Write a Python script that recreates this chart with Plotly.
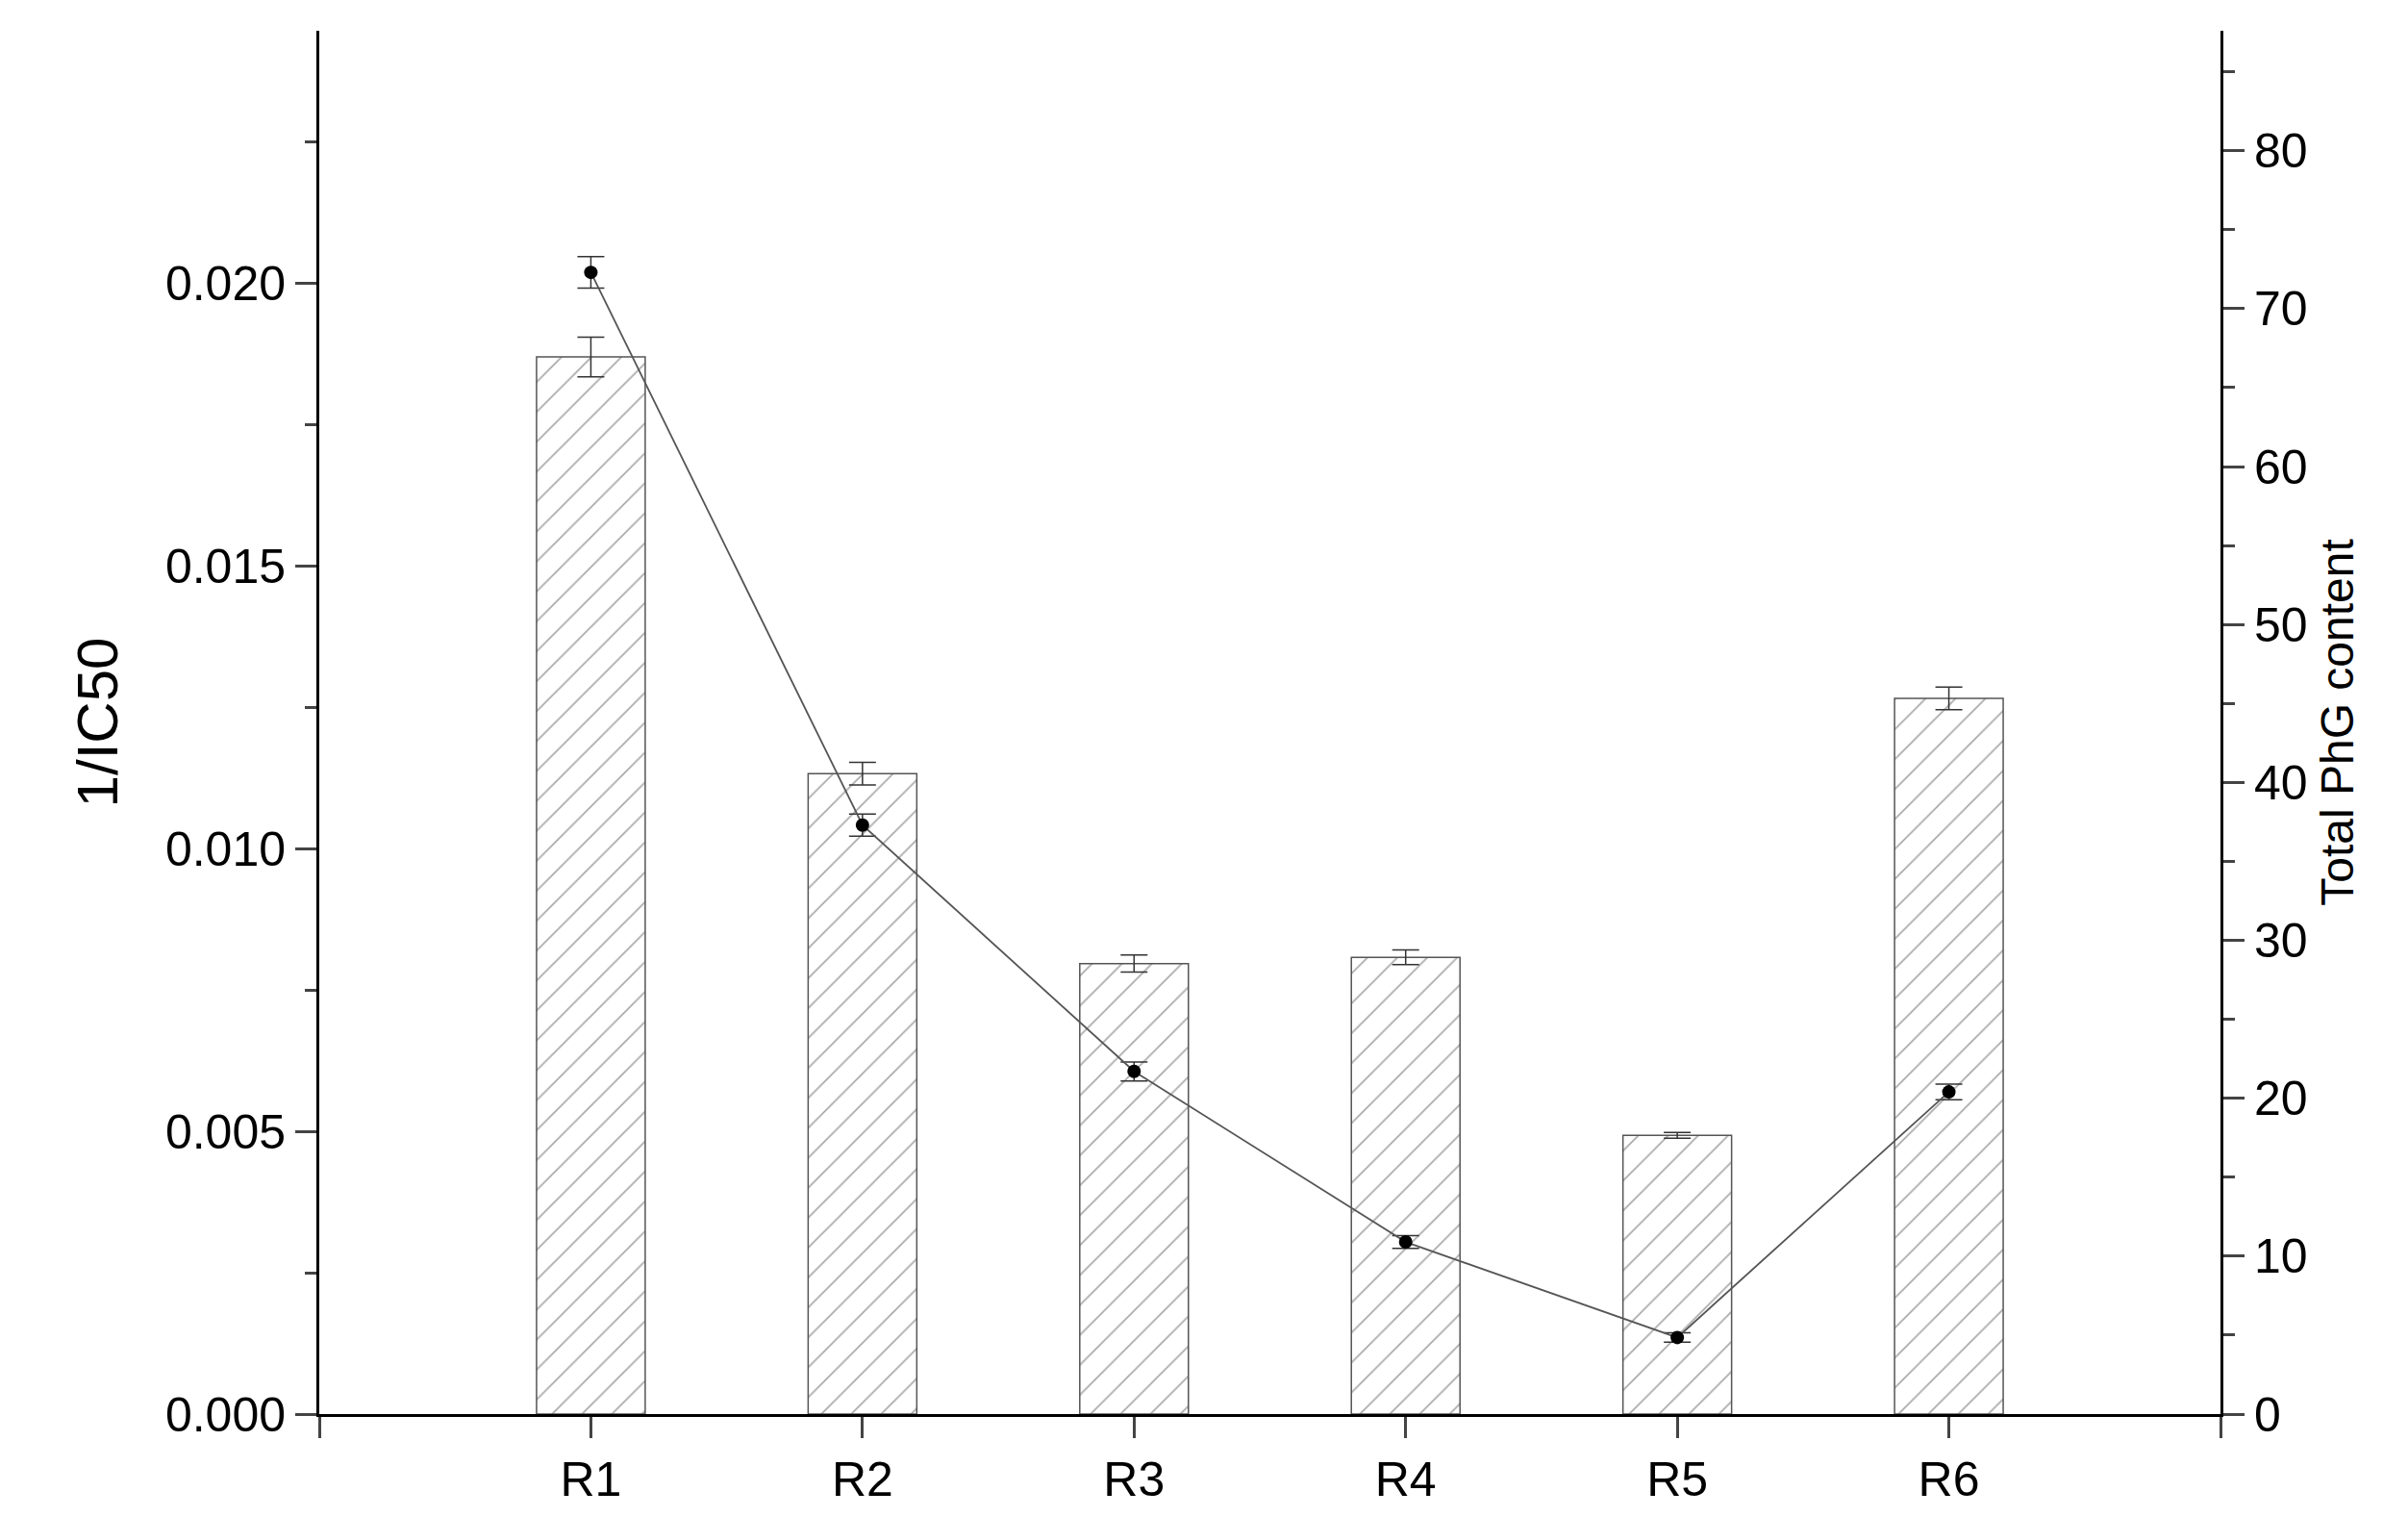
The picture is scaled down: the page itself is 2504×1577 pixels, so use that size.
import plotly.graph_objects as go

cats = ["R1", "R2", "R3", "R4", "R5", "R6"]
xpos = [1, 2, 3, 4, 5, 6]
ic50 = [0.0187, 0.01133, 0.00797, 0.00808, 0.00493, 0.01266]
ic50_err = [0.00035, 0.0002, 0.00015, 0.00013, 0.00005, 0.0002]
phg = [72.3, 37.3, 21.7, 10.9, 4.85, 20.4]
phg_err = [1.0, 0.7, 0.6, 0.4, 0.3, 0.5]

fig = go.Figure()
fig.add_trace(go.Bar(
    x=xpos, y=ic50, width=0.4,
    marker=dict(color="white", line=dict(color="#555", width=1.5),
                pattern=dict(shape="/", fgcolor="#555", size=22, solidity=0.08)),
    error_y=dict(type="data", array=ic50_err, color="#333", thickness=1.5, width=14),
    yaxis="y"))
fig.add_trace(go.Scatter(
    x=xpos, y=phg, mode="lines+markers",
    line=dict(color="#555", width=1.8),
    marker=dict(color="black", size=14),
    error_y=dict(type="data", array=phg_err, color="#333", thickness=1.5, width=14),
    yaxis="y2"))

fnt = dict(family="Liberation Sans, Arial", size=50, color="black")
fig.update_layout(
    width=2504, height=1577, showlegend=False,
    plot_bgcolor="white", paper_bgcolor="white",
    margin=dict(l=324, r=203, t=24, b=115),
    font=fnt,
    xaxis=dict(range=[0, 7], tickvals=list(range(0, 8)),
               ticktext=[""] + cats + [""], ticks="outside", ticklen=22,
               tickwidth=2.5, showline=True, linecolor="black", linewidth=3,
               showgrid=False, zeroline=False, tickfont=fnt),
    yaxis=dict(range=[0, 0.02447], tickvals=[0, 0.005, 0.01, 0.015, 0.02],
               tickformat=".3f", ticks="outside", ticklen=22, tickwidth=2.5,
               minor=dict(dtick=0.0025, ticks="outside", ticklen=12, tickwidth=2.5, tick0=0),
               showline=True, linecolor="black", linewidth=3, showgrid=False,
               zeroline=False, tickfont=fnt,
               title=dict(text="1/IC50", font=dict(family="Liberation Sans, Arial", size=60), standoff=30),
               ),
    yaxis2=dict(range=[0, 87.6], overlaying="y", side="right", dtick=10,
                ticks="outside", ticklen=22, tickwidth=2.5,
                minor=dict(dtick=5, ticks="outside", ticklen=12, tickwidth=2.5),
                showline=True, linecolor="black", linewidth=3, showgrid=False,
                zeroline=False, tickfont=fnt,
                title=dict(text="Total PhG content", font=dict(family="Liberation Sans, Arial", size=48))),
)
fig.write_html("out.html")
